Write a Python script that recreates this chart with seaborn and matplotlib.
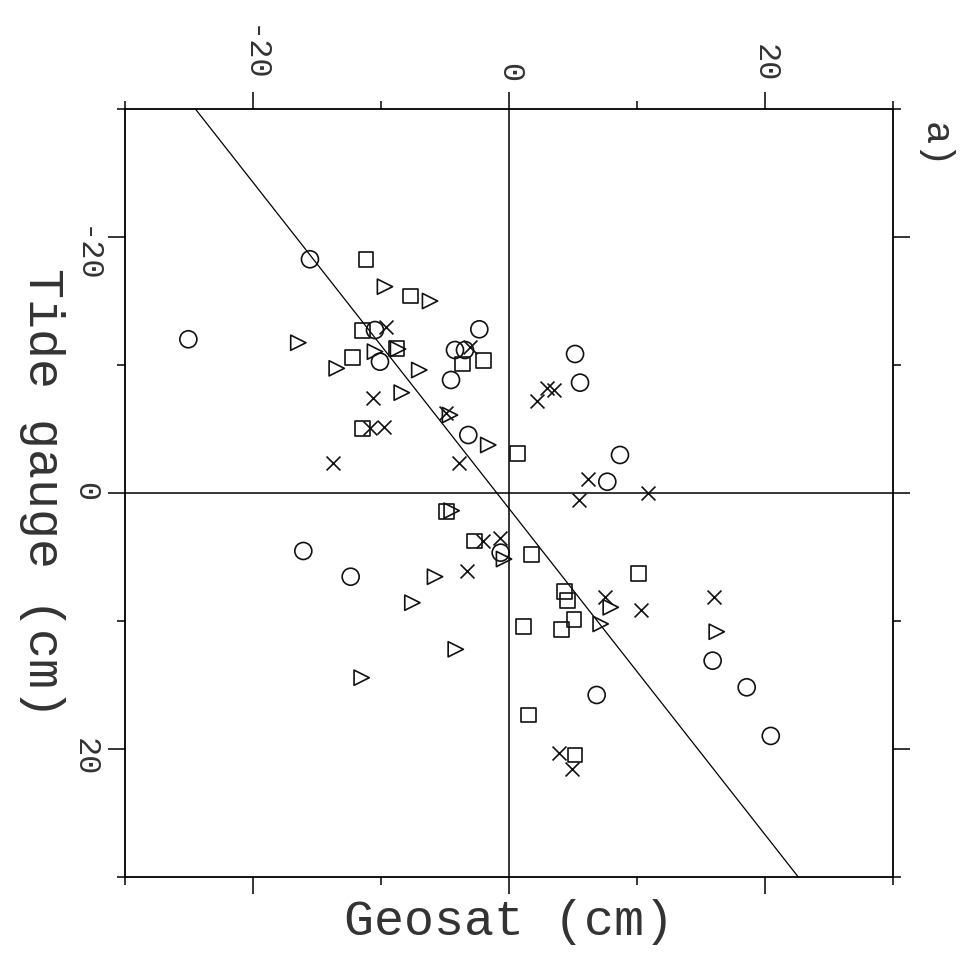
import matplotlib
matplotlib.use("Agg")
import matplotlib.pyplot as plt
import seaborn as sns
import pandas as pd

# ---- data (cm): (Geosat, Tide gauge) ----
circle_geosat = [-15.55, -10.47, -25.05, -10.08, -2.32, -4.22, -3.44, -4.53, -3.18, 5.16,
                 5.55, 8.67, 7.68, -16.07, -12.37, -0.65, 6.85, 15.91, 18.57, 20.45]
circle_tide = [-18.26, -12.73, -12.01, -10.26, -12.79, -11.17, -11.17, -8.83, -4.53, -10.86,
               -8.62, -2.97, -0.88, 4.53, 6.54, 4.66, 15.78, 13.10, 15.18, 18.98]

square_geosat = [-11.17, -7.68, -11.43, -8.77, -12.21, -3.62, -2.01, -11.43, 0.68, -4.87,
                 -2.73, 1.77, 10.10, 4.32, 4.55, 5.08, 4.12, 1.12, 1.51, 5.16]
square_tide = [-18.26, -15.39, -12.73, -11.30, -10.57, -10.08, -10.34, -5.05, -3.10, 1.46,
               3.75, 4.77, 6.27, 7.71, 8.41, 9.87, 10.65, 10.45, 17.34, 20.47]

triangle_geosat = [-9.69, -6.17, -16.46, -10.47, -13.46, -7.01, -8.38, -4.61, -1.62, -4.48,
                   -0.39, -5.78, -7.55, -4.16, -11.51, 7.95, 7.16, 16.23, -8.67]
triangle_tide = [-16.12, -15.00, -11.74, -11.04, -9.74, -9.61, -7.84, -6.09, -3.75, 1.38,
                 5.16, 6.54, 8.57, 12.21, 14.43, 8.93, 10.23, 10.84, -11.25]

cross_geosat = [-9.61, -3.05, -10.60, -10.86, -9.77, -4.92, -13.77, -3.88, 2.16, 2.95, 3.52,
                6.15, 10.88, 5.47, -2.01, -0.70, -3.30, 7.50, 10.31, 16.04, 3.93, 4.90]
cross_tide = [-12.99, -11.38, -7.45, -5.05, -5.13, -6.23, -2.32, -2.37, -7.21, -8.18, -8.05,
              -1.09, 0.02, 0.55, 3.75, 3.54, 6.07, 8.15, 9.14, 8.15, 20.29, 21.59]

# regression line: Geosat = fit_intercept + fit_slope * Tide
fit_intercept = -0.95
fit_slope = 0.785

axis_ticks = [-20, 0, 20]
minor_ticks = [-30, -10, 10, 30]
x_label = "Geosat (cm)"
y_label = "Tide gauge (cm)"
panel_label = "a)"

sns.set_style("ticks")
plt.rcParams["font.family"] = ["Liberation Mono", "DejaVu Sans Mono"]

fig = plt.figure(figsize=(9.8, 9.56), dpi=100)
ax = fig.add_axes([125 / 980, 79 / 956, 768 / 980, 768 / 956])

groups = [
    (circle_geosat, circle_tide, "o", 150),
    (square_geosat, square_tide, "s", 115),
    (triangle_geosat, triangle_tide, ">", 120),
]
for gx, gt, mk, size in groups:
    df = pd.DataFrame({"geosat": gx, "tide": gt})
    sns.scatterplot(data=df, x="geosat", y="tide", marker=mk, s=size,
                    facecolor="none", edgecolor="#111111", linewidth=1.2, ax=ax, zorder=3)

dfx = pd.DataFrame({"geosat": cross_geosat, "tide": cross_tide})
sns.scatterplot(data=dfx, x="geosat", y="tide", marker="x", s=100,
                color="#111111", linewidth=1.2, ax=ax, zorder=3)

ax.axhline(0, color="black", lw=1.1, zorder=1)
ax.axvline(0, color="black", lw=1.1, zorder=1)
ax.axline((fit_intercept, 0), slope=1 / fit_slope, color="black", lw=0.9, zorder=2)

ax.set_xlim(-30, 30)
ax.set_ylim(30, -30)
ax.set_xticks(axis_ticks)
ax.set_yticks(axis_ticks)
ax.set_xticks(minor_ticks, minor=True)
ax.set_yticks(minor_ticks, minor=True)
ax.set_xticklabels([str(v) for v in axis_ticks])
ax.set_yticklabels([str(v) for v in axis_ticks])

for s in ax.spines.values():
    s.set_linewidth(1.3)
    s.set_color("black")

ax.tick_params(which="major", direction="out", length=12, width=1.1, color="black",
               top=True, bottom=True, left=True, right=True,
               labeltop=True, labelbottom=False, labelleft=True, labelright=False,
               labelsize=23, labelcolor="#333333")
ax.tick_params(which="minor", direction="out", length=6, width=1.1, color="black",
               top=True, bottom=True, left=True, right=True)
ax.tick_params(axis="x", which="major", pad=7)
ax.tick_params(axis="y", which="major", pad=6)
for lab in ax.get_xticklabels():
    lab.set_rotation(-90)
for lab in ax.get_yticklabels():
    lab.set_rotation(-90)

ax.set_xlabel(x_label, fontsize=36, color="#333333")
ax.set_ylabel(y_label, fontsize=36, color="#333333", rotation=-90)
ax.xaxis.set_label_coords(0.5, -0.058)
ax.yaxis.set_label_coords(-0.108, 0.5)
ax.xaxis.label.set_va("center")
ax.yaxis.label.set_va("center")
ax.yaxis.label.set_ha("center")

fig.text(935 / 980, 1 - 145 / 956, panel_label, rotation=-90, fontsize=28,
         ha="center", va="center", color="#333333")

fig.savefig("out.png", dpi=100, facecolor="white")
